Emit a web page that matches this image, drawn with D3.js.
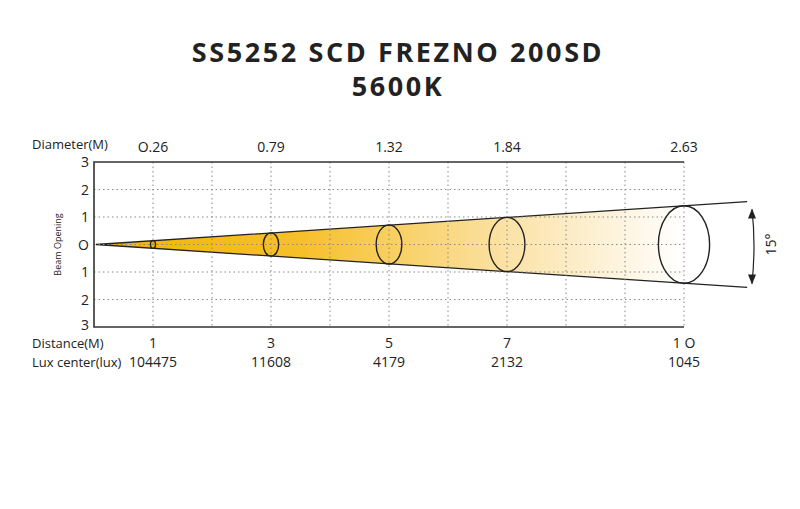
<!DOCTYPE html>
<html><head><meta charset="utf-8">
<script src="https://cdn.jsdelivr.net/npm/d3@7"></script>
<style>body{margin:0;background:#fff}text{font-family:"Open Sans",sans-serif;fill:#222}</style>
</head><body><svg width="800" height="509"></svg>
<script>
var distances = [1, 3, 5, 7, 10]
var distLabels = ["1", "3", "5", "7", "1 O"]
var diameters = [0.26, 0.79, 1.32, 1.84, 2.63]
var diamLabels = ["O.26", "0.79", "1.32", "1.84", "2.63"]
var luxCenter = ["104475", "11608", "4179", "2132", "1045"]
var yTicks = [3, 2, 1, 0, -1, -2, -3]
var yTickLabels = ["3", "2", "1", "O", "1", "2", "3"]
var beamEnd = 11.07, beamAngle = 15

var svg = d3.select("svg")
var x = d3.scaleLinear().domain([0, 10]).range([94, 684])
var y = d3.scaleLinear().domain([-3, 3]).range([327, 162])
// beam is drawn a bit wider than the axis units
var ry = d3.scaleLinear().domain([0, 1]).range([0, 29.5])

var grad = svg.append("defs").append("linearGradient").attr("id", "g")
  .attr("gradientUnits", "userSpaceOnUse")
  .attr("x1", x(0)).attr("x2", x(10)).attr("y1", 0).attr("y2", 0)
grad.append("stop").attr("offset", "0").attr("stop-color", "#f4b400")
grad.append("stop").attr("offset", "0.35").attr("stop-color", "#f6c02a")
grad.append("stop").attr("offset", "0.7").attr("stop-color", "#fbe2a6")
grad.append("stop").attr("offset", "1").attr("stop-color", "#ffffff")

var halfEnd = ry(diameters[4] / 2) * beamEnd / 10
svg.append("path")
  .attr("d", "M" + (x(0) + 2) + "," + y(0) + "L" + x(beamEnd) + "," + (y(0) - halfEnd) +
    "L" + x(beamEnd) + "," + (y(0) + halfEnd) + "Z")
  .attr("fill", "url(#g)")
svg.append("path")
  .attr("d", "M" + (x(0) + 2) + "," + y(0) + "L" + x(beamEnd) + "," + (y(0) - halfEnd) +
    "M" + (x(0) + 2) + "," + y(0) + "L" + x(beamEnd) + "," + (y(0) + halfEnd))
  .attr("stroke", "#222").attr("stroke-width", 1.3).attr("fill", "none")

// grid
svg.selectAll(".vg").data(d3.range(1, 11)).enter().append("line")
  .attr("x1", d => x(d)).attr("x2", d => x(d)).attr("y1", y(3)).attr("y2", y(-3))
  .attr("stroke", "#888").attr("stroke-dasharray", "1.5,3")
svg.selectAll(".hg").data(yTicks.slice(1, 6)).enter().append("line")
  .attr("x1", x(0)).attr("x2", x(10)).attr("y1", d => y(d)).attr("y2", d => y(d))
  .attr("stroke", "#888").attr("stroke-dasharray", "1.5,3")

svg.append("path")
  .attr("d", "M" + x(10) + "," + y(3) + "H" + x(0) + "V" + y(-3) + "H" + x(10))
  .attr("stroke", "#333").attr("stroke-width", 1.6).attr("fill", "none")

svg.selectAll("ellipse").data(distances).enter().append("ellipse")
  .attr("cx", d => x(d)).attr("cy", y(0))
  .attr("ry", (d, i) => ry(diameters[i] / 2))
  .attr("rx", (d, i) => ry(diameters[i] / 2) * 0.66)
  .attr("fill", "none").attr("stroke", "#222").attr("stroke-width", 1.4)

svg.selectAll(".yl").data(yTicks).enter().append("text")
  .attr("x", 89).attr("y", d => y(d) + (d === -3 ? 3 : 5)).attr("text-anchor", "end")
  .attr("font-size", 14).text((d, i) => yTickLabels[i])
svg.append("text").attr("transform", "translate(61," + y(0) + ") rotate(-90)")
  .attr("text-anchor", "middle").attr("font-size", 9).text("Beam Opening")

svg.append("text").attr("x", 32).attr("y", 149).attr("font-size", 13).text("Diameter(M)")
svg.append("text").attr("x", 32).attr("y", 348).attr("font-size", 13).text("Distance(M)")
svg.append("text").attr("x", 32).attr("y", 367).attr("font-size", 13).text("Lux center(lux)")
svg.selectAll(".dm").data(distances).enter().append("text")
  .attr("x", d => x(d)).attr("y", 152).attr("text-anchor", "middle").attr("font-size", 14)
  .text((d, i) => diamLabels[i])
svg.selectAll(".ds").data(distances).enter().append("text")
  .attr("x", d => x(d)).attr("y", 348).attr("text-anchor", "middle").attr("font-size", 14)
  .text((d, i) => distLabels[i])
svg.selectAll(".lx").data(distances).enter().append("text")
  .attr("x", d => x(d)).attr("y", 367).attr("text-anchor", "middle").attr("font-size", 14)
  .text((d, i) => luxCenter[i])

// angle arrow
var ax = 752, aTop = y(0) - 35, aBot = y(0) + 39
svg.append("path").attr("d", "M" + ax + "," + aTop + "Q" + (ax + 4) + "," + y(0) + " " + ax + "," + aBot)
  .attr("stroke", "#222").attr("fill", "none").attr("stroke-width", 1.2)
svg.append("path").attr("d", "M" + (ax - 4) + "," + (aTop + 9) + "L" + ax + "," + (aTop - 1) + "L" + (ax + 4) + "," + (aTop + 9) + "Z").attr("fill", "#222")
svg.append("path").attr("d", "M" + (ax - 4) + "," + (aBot - 9) + "L" + ax + "," + (aBot + 1) + "L" + (ax + 4) + "," + (aBot - 9) + "Z").attr("fill", "#222")
svg.append("text").attr("transform", "translate(776," + y(0) + ") rotate(-90)")
  .attr("text-anchor", "middle").attr("font-size", 14).text(beamAngle + "°")

svg.append("text").attr("x", 398).attr("y", 62).attr("text-anchor", "middle")
  .attr("font-family", "DejaVu Sans").attr("letter-spacing", 2.6)
  .attr("font-size", 27).attr("font-weight", "bold").text("SS5252 SCD FREZNO 200SD")
svg.append("text").attr("x", 398).attr("y", 96).attr("text-anchor", "middle")
  .attr("font-family", "DejaVu Sans").attr("letter-spacing", 2.6)
  .attr("font-size", 27).attr("font-weight", "bold").text("5600K")
</script></body></html>
